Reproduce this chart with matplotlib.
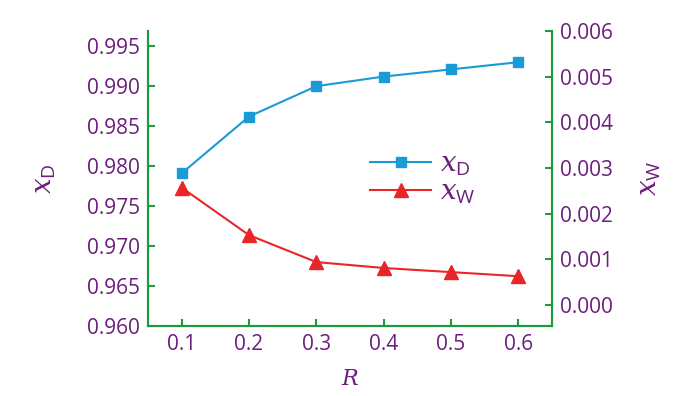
import matplotlib.pyplot as plt

R = [0.1, 0.2, 0.3, 0.4, 0.5, 0.6]
x_D = [0.9791, 0.9862, 0.9900, 0.9912, 0.9921, 0.9930]
x_W = [0.00257, 0.00153, 0.00094, 0.00081, 0.00072, 0.00063]

purple = "#6b1f7b"
green = "#1f9a3c"
blue = "#1a9ad6"
red = "#e8262a"

plt.rcParams["font.family"] = ["Open Sans", "DejaVu Sans"]
plt.rcParams["mathtext.fontset"] = "custom"
plt.rcParams["mathtext.it"] = "DejaVu Serif:italic"
plt.rcParams["mathtext.rm"] = "Open Sans"

fig = plt.figure(figsize=(7, 3.96), dpi=100)
ax = fig.add_axes([148 / 700, (396 - 326) / 396, (552 - 148) / 700, (326 - 31) / 396])
ax2 = ax.twinx()

l1, = ax.plot(R, x_D, "-s", color=blue, markersize=7.5, lw=1.5)
l2, = ax2.plot(R, x_W, "-^", color=red, markersize=10, lw=1.5)

ax.set_xlim(0.05, 0.65)
ax.set_ylim(0.960, 0.9969)
ax2.set_ylim(-0.00046, 0.0060)
ax.set_xticks(R)
ax.set_yticks([0.960, 0.965, 0.970, 0.975, 0.980, 0.985, 0.990, 0.995])
ax2.set_yticks([0.000, 0.001, 0.002, 0.003, 0.004, 0.005, 0.006])
ax.yaxis.set_major_formatter(plt.FormatStrFormatter("%.3f"))
ax2.yaxis.set_major_formatter(plt.FormatStrFormatter("%.3f"))
ax.xaxis.set_major_formatter(plt.FormatStrFormatter("%.1f"))

for a in (ax, ax2):
    a.spines["top"].set_visible(False)
    for s in ("left", "right", "bottom"):
        a.spines[s].set_color(green)
        a.spines[s].set_linewidth(1.5)
    a.tick_params(direction="in", length=5, width=1.5, color=green,
                  labelcolor=purple, labelsize=15, pad=6)

ax.set_xlabel("$R$", color=purple, fontsize=16, labelpad=10)
ax.set_ylabel(r"$x_{\mathrm{D}}$", color=purple, fontsize=20, labelpad=20)
ax2.set_ylabel(r"$x_{\mathrm{W}}$", color=purple, fontsize=20, labelpad=16)

leg = ax.legend([l1, l2], [r"$x_{\mathrm{D}}$", r"$x_{\mathrm{W}}$"],
                loc="center", bbox_to_anchor=(0.68, 0.50), frameon=False,
                fontsize=20, handlelength=2.2, labelspacing=0.0,
                handletextpad=0.3, borderpad=0)
for t in leg.get_texts():
    t.set_color(purple)

fig.savefig("out.png", dpi=100)
